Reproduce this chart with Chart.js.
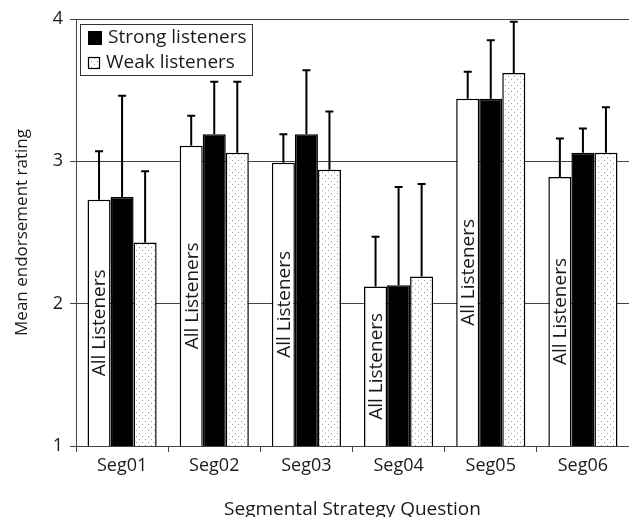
<!DOCTYPE html>
<html>
<head>
<meta charset="utf-8">
<script src="https://cdn.jsdelivr.net/npm/chart.js@4/dist/chart.umd.min.js"></script>
<style>
  html, body { margin: 0; padding: 0; background: #fff; }
  #wrap { width: 629px; height: 517px; position: relative; }
</style>
</head>
<body>
<div id="wrap"><canvas id="c"></canvas></div>
<script>
// Segment questions on the x axis
const questions = ['Seg01', 'Seg02', 'Seg03', 'Seg04', 'Seg05', 'Seg06'];

// Mean endorsement ratings per listener group
const allMeans    = [2.73, 3.11, 2.99, 2.12, 3.44, 2.89];
const strongMeans = [2.75, 3.19, 3.19, 2.13, 3.44, 3.06];
const weakMeans   = [2.43, 3.06, 2.94, 2.19, 3.62, 3.06];

// Upper error bar lengths (rating units)
const allErr    = [0.34, 0.21, 0.20, 0.35, 0.19, 0.27];
const strongErr = [0.71, 0.37, 0.45, 0.69, 0.41, 0.17];
const weakErr   = [0.50, 0.50, 0.41, 0.65, 0.36, 0.32];

// Labels
const groupLabels = ['All Listeners', 'Strong listeners', 'Weak listeners'];
const yTicks = [1, 2, 3, 4];
const yTitle = 'Mean endorsement rating';
const xTitle = 'Segmental Strategy Question';

const FONT = '"Open Sans", "Noto Sans", sans-serif';
const INK = '#1a1a1a';

// Stipple fill for the weak-listener bars
function makeDots() {
  const p = document.createElement('canvas');
  p.width = 6; p.height = 6;
  const g = p.getContext('2d');
  g.fillStyle = '#ffffff';
  g.fillRect(0, 0, 6, 6);
  g.fillStyle = '#9a9a9a';
  g.fillRect(1, 1, 1, 1);
  g.fillRect(4, 4, 1, 1);
  return g.createPattern(p, 'repeat');
}
const dots = makeDots();

const errorSets = [allErr, strongErr, weakErr];

// Upward error bars with caps
const errorBars = {
  id: 'errorBars',
  afterDatasetsDraw(chart) {
    const ctx = chart.ctx;
    const y = chart.scales.y;
    ctx.save();
    ctx.strokeStyle = '#000';
    ctx.lineWidth = 2;
    chart.data.datasets.forEach((ds, di) => {
      const meta = chart.getDatasetMeta(di);
      meta.data.forEach((bar, i) => {
        const top = y.getPixelForValue(ds.data[i] + errorSets[di][i]);
        ctx.beginPath();
        ctx.moveTo(bar.x, bar.y);
        ctx.lineTo(bar.x, top);
        ctx.moveTo(bar.x - 4, top);
        ctx.lineTo(bar.x + 4, top);
        ctx.stroke();
      });
    });
    ctx.restore();
  }
};

// Vertical "All Listeners" text inside each white bar
const barText = {
  id: 'barText',
  afterDatasetsDraw(chart) {
    const ctx = chart.ctx;
    const meta = chart.getDatasetMeta(0);
    const bottom = chart.chartArea.bottom;
    ctx.save();
    ctx.fillStyle = INK;
    ctx.font = '19px ' + FONT;
    ctx.textAlign = 'center';
    ctx.textBaseline = 'middle';
    meta.data.forEach(bar => {
      ctx.save();
      ctx.translate(bar.x, (bar.y + bottom) / 2);
      ctx.rotate(-Math.PI / 2);
      ctx.fillText(groupLabels[0], 0, 1);
      ctx.restore();
    });
    ctx.restore();
  }
};

// Boxed legend in the top-left corner of the plot
const boxLegend = {
  id: 'boxLegend',
  afterDraw(chart) {
    const ctx = chart.ctx;
    const a = chart.chartArea;
    const x0 = a.left + 4, y0 = a.top + 5, w = 172, h = 51;
    ctx.save();
    ctx.fillStyle = '#fff';
    ctx.fillRect(x0, y0, w, h);
    ctx.strokeStyle = '#333';
    ctx.lineWidth = 1;
    ctx.strokeRect(x0 + 0.5, y0 + 0.5, w, h);
    ctx.font = '19px ' + FONT;
    ctx.textBaseline = 'middle';
    // strong
    ctx.fillStyle = '#000';
    ctx.fillRect(x0 + 8, y0 + 7, 14, 14);
    ctx.fillStyle = INK;
    ctx.fillText(groupLabels[1], x0 + 28, y0 + 14);
    // weak
    ctx.fillStyle = dots;
    ctx.fillRect(x0 + 8, y0 + 33, 12, 12);
    ctx.strokeStyle = '#000';
    ctx.lineWidth = 1.2;
    ctx.strokeRect(x0 + 8.5, y0 + 33.5, 11, 11);
    ctx.fillStyle = INK;
    ctx.fillText(groupLabels[2], x0 + 26, y0 + 39);
    ctx.restore();
  }
};

const barStyle = { borderColor: '#000', borderWidth: 1.5, borderSkipped: false };

new Chart(document.getElementById('c'), {
  type: 'bar',
  data: {
    labels: questions,
    datasets: [
      Object.assign({ label: groupLabels[0], data: allMeans, backgroundColor: '#ffffff' }, barStyle),
      Object.assign({ label: groupLabels[1], data: strongMeans, backgroundColor: '#000000' }, barStyle),
      Object.assign({ label: groupLabels[2], data: weakMeans, backgroundColor: dots }, barStyle)
    ]
  },
  options: {
    responsive: true,
    maintainAspectRatio: false,
    animation: false,
    events: [],
    layout: { autoPadding: false, padding: { top: 19, right: 0, bottom: 0, left: 0 } },
    datasets: { bar: { categoryPercentage: 0.75, barPercentage: 1.0 } },
    plugins: { legend: { display: false }, tooltip: { enabled: false } },
    scales: {
      x: {
        afterFit(s) { s.height = 71; },
        grid: { offset: true, drawOnChartArea: false, drawTicks: true, tickLength: 6, color: '#444', lineWidth: 1 },
        border: { display: true, color: '#444', width: 1 },
        ticks: { color: INK, font: { family: FONT, size: 18 }, padding: 3, maxRotation: 0 },
        title: { display: true, text: xTitle, color: INK, font: { family: FONT, size: 19, lineHeight: 1.0 }, padding: { top: 0, bottom: -2 } }
      },
      y: {
        min: 1, max: 4,
        afterFit(s) { s.width = 76; },
        afterBuildTicks(s) { s.ticks = yTicks.map(v => ({ value: v })); },
        grid: { drawTicks: true, tickLength: 6, color: '#444', lineWidth: 1 },
        border: { display: true, color: '#444', width: 1 },
        ticks: { color: INK, font: { family: FONT, size: 18 }, padding: 7 },
        title: { display: true, text: yTitle, color: INK, font: { family: FONT, size: 17, lineHeight: 1.2 }, padding: { top: 12, bottom: 0 } }
      }
    }
  },
  plugins: [errorBars, barText, boxLegend]
});
</script>
</body>
</html>
